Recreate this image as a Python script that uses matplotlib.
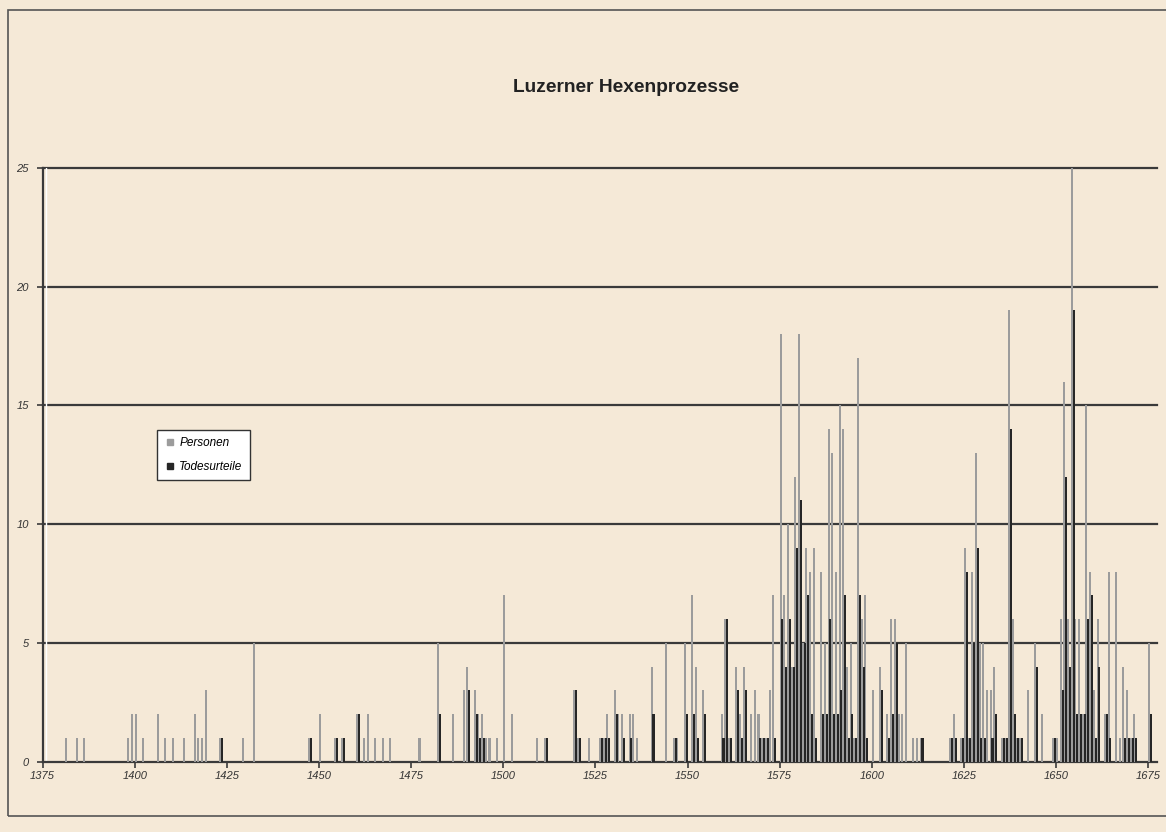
import matplotlib
matplotlib.use("Agg")
import matplotlib.pyplot as plt
from matplotlib.lines import Line2D
from matplotlib.patches import Rectangle

# ---- data ----
years = [1381, 1384, 1386, 1398, 1399, 1400, 1402, 1406, 1408, 1410, 1413, 1416, 1417, 1418, 1419,
         1423, 1429, 1432, 1447, 1450, 1454, 1456, 1460, 1462, 1463, 1465, 1467, 1469, 1477, 1482,
         1486, 1489, 1490, 1492, 1493, 1494, 1495, 1496, 1498, 1500, 1502, 1509, 1511, 1519, 1520,
         1523, 1526, 1527, 1528, 1530, 1531, 1532, 1534, 1535, 1536, 1540, 1544, 1546, 1547, 1549,
         1551, 1552, 1554, 1559, 1560, 1561, 1563, 1564, 1565, 1567, 1568, 1569, 1570, 1571, 1572,
         1573, 1575, 1576, 1577, 1578, 1579, 1580, 1581, 1582, 1583, 1584, 1586, 1587, 1588, 1589,
         1590, 1591, 1592, 1593, 1594, 1595, 1596, 1597, 1598, 1600, 1602, 1604, 1605, 1606, 1607,
         1608, 1609, 1611, 1612, 1613, 1621, 1622, 1624, 1625, 1626, 1627, 1628, 1629, 1630, 1631,
         1632, 1633, 1635, 1636, 1637, 1638, 1639, 1640, 1642, 1644, 1646, 1649, 1650, 1651, 1652,
         1653, 1654, 1655, 1656, 1657, 1658, 1659, 1660, 1661, 1663, 1664, 1666, 1667, 1668, 1669,
         1670, 1671, 1675]
personen = [1, 1, 1, 1, 2, 2, 1, 2, 1, 1, 1, 2, 1, 1, 3,
            1, 1, 5, 1, 2, 1, 1, 2, 1, 2, 1, 1, 1, 1, 5,
            2, 3, 4, 3, 2, 2, 1, 1, 1, 7, 2, 1, 1, 3, 1,
            1, 1, 1, 2, 3, 2, 2, 2, 2, 1, 4, 5, 1, 1, 5,
            7, 4, 3, 2, 6, 1, 4, 2, 4, 2, 3, 2, 1, 1, 3,
            7, 18, 7, 10, 4, 12, 18, 5, 9, 8, 9, 8, 5, 14, 13,
            8, 15, 14, 4, 5, 1, 17, 6, 7, 3, 4, 2, 6, 6, 2,
            2, 5, 1, 1, 1, 1, 2, 1, 9, 1, 8, 13, 5, 5, 3,
            3, 4, 1, 1, 19, 6, 1, 1, 3, 5, 2, 1, 1, 6, 16,
            6, 25, 6, 6, 2, 15, 8, 3, 6, 2, 8, 8, 1, 4, 3,
            1, 2, 5]
todesurteile = [0, 0, 0, 0, 0, 0, 0, 0, 0, 0, 0, 0, 0, 0, 0,
                1, 0, 0, 1, 0, 1, 1, 2, 0, 0, 0, 0, 0, 0, 2,
                0, 0, 3, 2, 1, 1, 0, 0, 0, 0, 0, 0, 1, 3, 1,
                0, 1, 1, 1, 2, 0, 1, 1, 0, 0, 2, 0, 1, 0, 2,
                2, 1, 2, 1, 6, 1, 3, 1, 3, 0, 0, 1, 1, 1, 0,
                1, 6, 4, 6, 4, 9, 11, 5, 7, 2, 1, 2, 2, 6, 2,
                2, 3, 7, 1, 2, 1, 7, 4, 1, 0, 3, 1, 2, 5, 0,
                0, 0, 0, 0, 1, 1, 1, 1, 8, 1, 5, 9, 1, 1, 0,
                1, 2, 1, 1, 14, 2, 1, 1, 0, 4, 0, 1, 0, 3, 12,
                4, 19, 2, 2, 2, 6, 7, 1, 4, 2, 1, 0, 0, 1, 1,
                1, 1, 2]
series_names = ["Personen", "Todesurteile"]
title = "Luzerner Hexenprozesse"
xticks = [1375, 1400, 1425, 1450, 1475, 1500, 1525, 1550, 1575, 1600, 1625, 1650, 1675]
yticks = [0, 5, 10, 15, 20, 25]

# ---- style ----
BG = "#f5e9d7"
GREY = "#9c9c9c"
BLACK = "#262626"
GRID = "#3a3a3a"
FONT = "Liberation Sans"

W, H = 1166, 832
fig = plt.figure(figsize=(W / 100, H / 100), dpi=100, facecolor=BG)

# outer frame
fig.patches.append(Rectangle((8 / W, 1 - 816 / H), (W + 5 - 8) / W, (816 - 10) / H,
                             transform=fig.transFigure, fill=False,
                             edgecolor="#555555", linewidth=1.2))

x0, x1 = 42.7, 1157.0
ybot, ytop = 761.7, 168.0
ax = fig.add_axes([x0 / W, 1 - ybot / H, (x1 - x0) / W, (ybot - ytop) / H])
ax.set_facecolor(BG)

px_per_year = 3.685
xmax = 1375 + (x1 - x0) / px_per_year
ax.set_xlim(1375, xmax)
ax.set_ylim(0, 25)

bw = 0.55
ax.bar([y + 0.25 for y in years], personen, width=bw, color=GREY, linewidth=0, zorder=3,
       label=series_names[0])
ax.bar([y + 0.75 for y in years], todesurteile, width=bw, color=BLACK, linewidth=0, zorder=4,
       label=series_names[1])

for v in yticks[1:]:
    ax.axhline(v, color=GRID, linewidth=1.6, zorder=2, clip_on=False)
ax.axvline(1375.9, color="#ffffff", linewidth=1.0, zorder=2)

for s in ["top", "right"]:
    ax.spines[s].set_visible(False)
for s in ["left", "bottom"]:
    ax.spines[s].set_color(GRID)
    ax.spines[s].set_linewidth(1.6)

ax.set_xticks(xticks)
ax.set_yticks(yticks)
ax.tick_params(axis="both", direction="out", length=4, width=1.2, color=GRID,
               labelsize=8, labelcolor="#333333")
ax.tick_params(axis="y", pad=6)
ax.tick_params(axis="x", pad=3)
for lab in ax.get_xticklabels() + ax.get_yticklabels():
    lab.set_fontfamily(FONT)
    lab.set_fontstyle("italic")

fig.text(626 / W, 1 - 87 / H, title, ha="center", va="center", fontsize=13.8,
         fontweight="bold", family=FONT, color="#222222")

handles = [Line2D([], [], marker="s", linestyle="none", markersize=4.5, color=GREY),
           Line2D([], [], marker="s", linestyle="none", markersize=4.5, color=BLACK)]
leg = ax.legend(handles, series_names, loc="upper left",
                bbox_to_anchor=((157 - x0) / (x1 - x0), (ybot - 430) / (ybot - ytop)),
                borderaxespad=0, frameon=True, fancybox=False, framealpha=1,
                edgecolor="#333333", facecolor="white", handlelength=1.0,
                handletextpad=0.3, borderpad=0.6, labelspacing=1.0,
                prop={"family": FONT, "style": "italic", "size": 8.5})
leg.get_frame().set_linewidth(1.0)
leg.set_zorder(10)

fig.savefig("out.png", dpi=100, facecolor=BG)
